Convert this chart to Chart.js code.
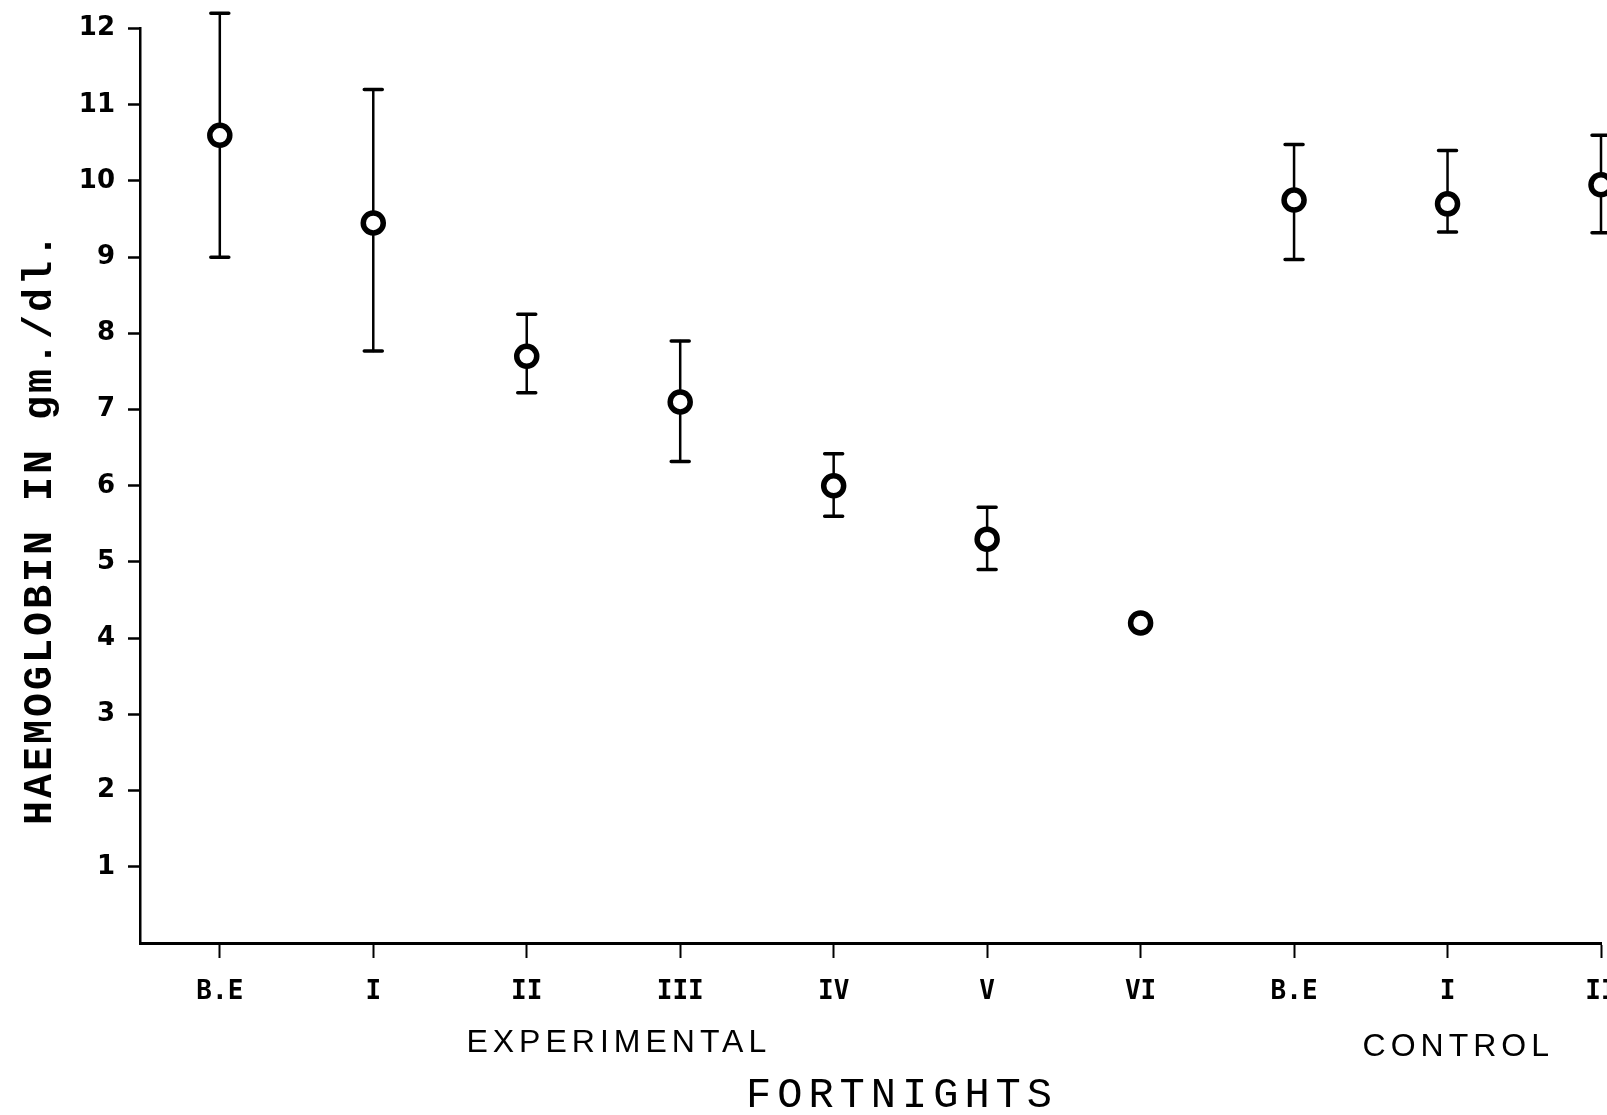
<!DOCTYPE html>
<html>
<head>
<meta charset="utf-8">
<script src="https://cdn.jsdelivr.net/npm/chart.js@4.4.1/dist/chart.umd.min.js"></script>
<style>
  html, body { margin: 0; padding: 0; background: #fff; }
  #wrap { width: 1607px; height: 1115px; }
</style>
</head>
<body>
<div id="wrap"><canvas id="myChart"></canvas></div>
<script>
// fortnights along the x axis: experimental group, then control group
var periods = ["B.E", "I", "II", "III", "IV", "V", "VI", "B.E", "I", "II"];
// mean haemoglobin (gm/dl) for each fortnight
var means = [10.6, 9.45, 7.7, 7.1, 6.0, 5.3, 4.2, 9.75, 9.7, 9.95];
// lower / upper ends of the range bars (null = no bar drawn)
var lows  = [9.0, 7.77, 7.22, 6.32, 5.6, 4.9, null, 8.97, 9.33, 9.32];
var highs = [12.2, 11.2, 8.25, 7.9, 6.42, 5.72, null, 10.48, 10.4, 10.6];
// labels on the value axis
var yTicks = [1, 2, 3, 4, 5, 6, 7, 8, 9, 10, 11, 12];

var points = means.map(function (m, i) { return { x: i, y: m }; });

// vertical range bars with caps, drawn under the markers
var rangeBars = {
  id: "rangeBars",
  beforeDatasetsDraw: function (chart) {
    var ctx = chart.ctx, xs = chart.scales.x, ys = chart.scales.y;
    ctx.save();
    ctx.strokeStyle = "#000";
    ctx.lineCap = "round";
    for (var i = 0; i < means.length; i++) {
      if (lows[i] == null) continue;
      var px = xs.getPixelForValue(i);
      var top = ys.getPixelForValue(highs[i]);
      var bot = ys.getPixelForValue(lows[i]);
      ctx.lineWidth = 2.5;
      ctx.beginPath();
      ctx.moveTo(px, top);
      ctx.lineTo(px, bot);
      ctx.stroke();
      ctx.lineWidth = 3.5;
      ctx.beginPath();
      ctx.moveTo(px - 9, top); ctx.lineTo(px + 9, top);
      ctx.moveTo(px - 9, bot); ctx.lineTo(px + 9, bot);
      ctx.stroke();
    }
    ctx.restore();
  }
};

// axis titles and group names under the x axis
var axisText = {
  id: "axisText",
  afterDraw: function (chart) {
    var ctx = chart.ctx, xs = chart.scales.x;
    ctx.save();
    ctx.fillStyle = "#000";
    ctx.textAlign = "center";
    ctx.textBaseline = "middle";

    ctx.font = "32px 'Liberation Sans'";
    ctx.letterSpacing = "5px";
    ctx.fillText("EXPERIMENTAL", xs.getPixelForValue(2.6), 1043);
    ctx.fillText("CONTROL", xs.getPixelForValue(8.07), 1047);

    ctx.font = "42px 'Liberation Mono'";
    ctx.letterSpacing = "6px";
    ctx.fillText("FORTNIGHTS", 902, 1096);

    ctx.translate(41, 528);
    ctx.rotate(-Math.PI / 2);
    ctx.font = "bold 40px 'Liberation Mono'";
    ctx.letterSpacing = "3px";
    ctx.fillText("HAEMOGLOBIN IN gm./dl.", 0, 0);
    ctx.restore();
  }
};

new Chart(document.getElementById("myChart"), {
  type: "scatter",
  data: {
    datasets: [
      {
        label: "mean",
        data: points,
        clip: false,
        pointRadius: 10,
        pointHoverRadius: 10,
        pointBorderWidth: 5.5,
        pointBorderColor: "#000",
        pointBackgroundColor: "#fff"
      },
      {
        label: "centre",
        data: points,
        clip: false,
        pointRadius: 2.5,
        pointHoverRadius: 2.5,
        pointBorderWidth: 0,
        pointBackgroundColor: "#000"
      }
    ]
  },
  options: {
    responsive: true,
    maintainAspectRatio: false,
    animation: false,
    events: [],
    layout: { autoPadding: false, padding: { left: 0, right: 6, top: 28, bottom: 0 } },
    plugins: { legend: { display: false }, tooltip: { enabled: false } },
    scales: {
      x: {
        type: "linear",
        min: -0.52,
        max: 9,
        afterBuildTicks: function (scale) {
          scale.ticks = periods.map(function (p, i) { return { value: i }; });
        },
        afterFit: function (scale) {
          scale.height = 172;
          scale.paddingRight = 0;
          scale.paddingLeft = 0;
        },
        border: { color: "#000", width: 3 },
        grid: { drawOnChartArea: false, tickLength: 15, tickWidth: 2, tickColor: "#000" },
        ticks: {
          color: "#000",
          padding: 19,
          maxRotation: 0,
          autoSkip: false,
          font: { family: "'DejaVu Sans Mono'", size: 26, weight: "bold" },
          callback: function (v) { return periods[v]; }
        }
      },
      y: {
        min: 0,
        max: 12,
        afterBuildTicks: function (scale) {
          scale.ticks = yTicks.map(function (v) { return { value: v }; });
        },
        afterFit: function (scale) { scale.width = 140; },
        border: { color: "#000", width: 2.5 },
        grid: { drawOnChartArea: false, tickLength: 12, tickWidth: 2.5, tickColor: "#000" },
        ticks: {
          color: "#000",
          padding: 13,
          font: { family: "'DejaVu Sans'", size: 26, weight: "bold" }
        }
      }
    }
  },
  plugins: [rangeBars, axisText]
});
</script>
</body>
</html>
